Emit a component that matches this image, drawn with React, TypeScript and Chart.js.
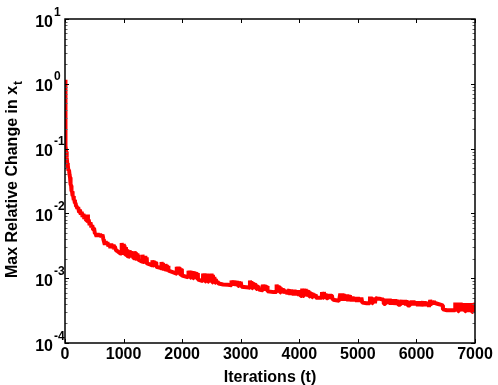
import { useEffect, useRef } from "react";
import { Chart, registerables } from "chart.js";

Chart.register(...registerables);

// x tick values (iterations) and y decades (log10 exponents)
const xTickValues = [0, 1000, 2000, 3000, 4000, 5000, 6000, 7000];
const yDecades = [-4, -3, -2, -1, 0, 1];
const xTitle = "Iterations (t)";
const yTitleMain = "Max Relative Change in x";
const yTitleSub = "t";

// [iteration, max relative change]
const phaseEarly: [number, number][] = [
  [0, 1.15], [3, 0.6], [6, 0.3], [10, 0.16], [14, 0.11], [20, 0.09], [29, 0.074], [38, 0.06],
  [48, 0.055], [58, 0.046], [68, 0.047], [77, 0.04], [86, 0.036], [95, 0.028], [104, 0.027],
  [111, 0.022], [120, 0.022], [130, 0.0185], [140, 0.0185], [150, 0.016], [160, 0.0162],
  [170, 0.0142], [180, 0.0145], [190, 0.0128], [200, 0.013], [210, 0.0118], [225, 0.0125],
  [240, 0.0105], [255, 0.0115], [270, 0.0096], [285, 0.0106], [300, 0.0088], [315, 0.0098],
  [330, 0.0082], [345, 0.009], [360, 0.0078], [372, 0.0085], [384, 0.0096], [392, 0.0072],
  [405, 0.008], [420, 0.0066], [435, 0.0073], [450, 0.0061], [465, 0.0066], [480, 0.0056],
  [495, 0.006], [510, 0.0049], [520, 0.0049], [540, 0.0044], [560, 0.0049], [580, 0.0044],
  [600, 0.0048], [620, 0.0043], [640, 0.0047], [655, 0.004], [665, 0.0037], [680, 0.0033],
  [695, 0.0037], [710, 0.0033], [725, 0.0036], [740, 0.0031],
];

const phaseMid: [number, number][] = [
  [760, 0.0034], [775, 0.0029], [790, 0.0034], [805, 0.0029], [820, 0.0033], [835, 0.0028],
  [850, 0.0031], [870, 0.0027], [900, 0.0026], [950, 0.0024],
  [965, 0.0024], [968, 0.0035], [980, 0.0024], [992, 0.0034], [1004, 0.0023], [1016, 0.0032],
  [1028, 0.0023], [1040, 0.003], [1052, 0.0022], [1060, 0.0028], [1063, 0.0022], [1095, 0.00215],
  [1103, 0.0027], [1115, 0.00212], [1127, 0.0026], [1139, 0.0021], [1151, 0.0025], [1163, 0.0021],
  [1166, 0.0024], [1170, 0.00205],
  [1185, 0.00203], [1188, 0.0026], [1200, 0.002], [1212, 0.0025], [1224, 0.00198], [1236, 0.0024],
  [1248, 0.00195], [1251, 0.0023], [1254, 0.00193], [1310, 0.00182],
  [1320, 0.0018], [1323, 0.0023], [1335, 0.00178], [1347, 0.0022], [1359, 0.00175], [1371, 0.0022],
  [1383, 0.00172], [1395, 0.0021], [1400, 0.00169], [1470, 0.0016],
  [1490, 0.00158], [1493, 0.0019], [1505, 0.00157], [1517, 0.00185], [1529, 0.00155], [1541, 0.0018],
  [1553, 0.00152], [1556, 0.00175], [1559, 0.0015], [1630, 0.00144],
  [1645, 0.00142], [1648, 0.00178], [1660, 0.0014], [1672, 0.00172], [1684, 0.00139], [1696, 0.00165],
  [1699, 0.00138],
  [1712, 0.00136], [1715, 0.00166], [1727, 0.00135], [1739, 0.0016], [1751, 0.00133], [1763, 0.00155],
  [1766, 0.00131], [1850, 0.00123],
  [1905, 0.00117], [1908, 0.0015], [1920, 0.00116], [1932, 0.0015], [1944, 0.00115], [1956, 0.00147],
  [1968, 0.00113], [1980, 0.00142], [1992, 0.00111], [1995, 0.0014], [1998, 0.0011], [2090, 0.00104],
  [2100, 0.00104], [2103, 0.0013], [2115, 0.00103], [2127, 0.0013], [2139, 0.00102], [2151, 0.00129],
  [2163, 0.00101], [2175, 0.00128], [2187, 0.001], [2199, 0.00127], [2211, 0.00099], [2223, 0.00125],
  [2235, 0.00098], [2247, 0.00122], [2259, 0.00097], [2268, 0.0012], [2271, 0.00095], [2340, 0.00091],
  [2355, 0.0009], [2358, 0.00118], [2370, 0.0009], [2382, 0.00118], [2394, 0.00089], [2406, 0.00117],
  [2418, 0.00088], [2430, 0.00117], [2442, 0.00088], [2454, 0.00116], [2466, 0.00087], [2478, 0.00116],
  [2490, 0.00086], [2502, 0.00118], [2514, 0.00086], [2525, 0.00112], [2537, 0.00086], [2550, 0.00104],
  [2562, 0.00085], [2575, 0.00097], [2587, 0.00085], [2600, 0.0009], [2612, 0.00084], [2640, 0.00082],
];

const phaseLate: [number, number][] = [
  [2700, 0.0008], [2780, 0.00079], [2840, 0.00078], [2843, 0.00092], [2865, 0.00077], [2880, 0.00092],
  [2895, 0.00077], [2910, 0.00091], [2925, 0.00076], [2940, 0.0009], [2955, 0.00076], [2970, 0.00089],
  [2985, 0.00075], [3000, 0.00088], [3015, 0.00074], [3140, 0.00072],
  [3155, 0.00071], [3158, 0.00092], [3170, 0.00071], [3182, 0.0009], [3194, 0.0007], [3206, 0.00087],
  [3218, 0.0007], [3230, 0.00084], [3242, 0.00069], [3254, 0.00081], [3266, 0.00068], [3278, 0.00078],
  [3290, 0.00068], [3302, 0.00076], [3314, 0.00067], [3323, 0.00066],
  [3375, 0.00065], [3378, 0.0008], [3390, 0.00065], [3402, 0.00079], [3414, 0.00064], [3426, 0.00078],
  [3438, 0.00064], [3450, 0.00076], [3458, 0.00063], [3560, 0.00061],
  [3610, 0.00061], [3613, 0.0008], [3625, 0.0006], [3637, 0.00077], [3649, 0.0006], [3661, 0.00075],
  [3673, 0.0006], [3685, 0.00072], [3697, 0.00059], [3709, 0.0007], [3721, 0.00059], [3733, 0.00068],
  [3745, 0.00058], [3757, 0.00066], [3769, 0.00058], [3781, 0.00064], [3793, 0.00057], [3805, 0.00057],
  [3830, 0.00067], [3845, 0.00055], [3860, 0.00067], [3875, 0.00055], [3890, 0.00066], [3905, 0.00054],
  [3920, 0.00066], [3935, 0.00054], [3950, 0.00065], [3965, 0.00054], [3980, 0.00065], [3995, 0.00053],
  [4010, 0.00064], [4025, 0.00053],
  [4045, 0.00053], [4050, 0.00069], [4065, 0.00053], [4080, 0.00069], [4095, 0.00053], [4110, 0.00068],
  [4122, 0.00053], [4134, 0.00066], [4146, 0.00052], [4158, 0.00064], [4170, 0.00052], [4182, 0.00062],
  [4194, 0.00051], [4206, 0.0006], [4218, 0.00051], [4230, 0.00059], [4242, 0.00051], [4254, 0.00057],
  [4266, 0.00051], [4278, 0.00056], [4283, 0.0005], [4340, 0.0005],
  [4385, 0.0005], [4388, 0.00061], [4405, 0.0005], [4420, 0.00061], [4435, 0.0005], [4450, 0.00058],
  [4465, 0.00049], [4490, 0.00049], [4495, 0.00057], [4510, 0.00048], [4525, 0.00057], [4540, 0.00048],
  [4555, 0.00055], [4570, 0.00047], [4600, 0.00046], [4680, 0.00045],
];

const phaseFinal: [number, number][] = [
  [4695, 0.00045], [4700, 0.00058], [4715, 0.00045], [4730, 0.00058], [4745, 0.00045], [4760, 0.00057],
  [4775, 0.00045], [4790, 0.00056], [4805, 0.00045], [4820, 0.00056], [4835, 0.00044], [4850, 0.00055],
  [4865, 0.00044], [4880, 0.00052], [4895, 0.00044], [4910, 0.00052], [4925, 0.00044], [4940, 0.00051],
  [4955, 0.00044], [4970, 0.00051], [4985, 0.00043], [5000, 0.00051], [5015, 0.00043], [5030, 0.0005],
  [5045, 0.00043], [5060, 0.0005], [5075, 0.00042], [5150, 0.00041],
  [5205, 0.00041], [5208, 0.00052], [5220, 0.00041], [5232, 0.00051], [5244, 0.00041], [5256, 0.0005],
  [5268, 0.00041], [5280, 0.0005], [5292, 0.00041], [5304, 0.00049],
  [5320, 0.00049], [5350, 0.00048], [5380, 0.00048], [5410, 0.00047], [5440, 0.00047], [5443, 0.0004],
  [5470, 0.0004], [5485, 0.00048], [5500, 0.0004], [5515, 0.00048], [5530, 0.0004], [5545, 0.00048],
  [5560, 0.00039], [5575, 0.00047], [5590, 0.00039], [5605, 0.00047], [5620, 0.00039], [5640, 0.00047],
  [5655, 0.00039], [5670, 0.00046], [5690, 0.00039], [5725, 0.00039],
  [5745, 0.00046], [5760, 0.00039], [5775, 0.00046], [5790, 0.00039], [5805, 0.00046], [5820, 0.00038],
  [5835, 0.00045], [5850, 0.00038], [5880, 0.00038],
  [5890, 0.00045], [5905, 0.00038], [5920, 0.00045], [5935, 0.00038], [5950, 0.00045], [5965, 0.00038],
  [5980, 0.00044], [5995, 0.00038], [6010, 0.00044], [6025, 0.00037], [6040, 0.00044], [6055, 0.00037],
  [6070, 0.00044], [6085, 0.00037],
  [6110, 0.00044], [6125, 0.00037], [6140, 0.00044], [6155, 0.00037], [6170, 0.00043], [6185, 0.00037],
  [6200, 0.00043], [6215, 0.00036],
  [6235, 0.00046], [6250, 0.0004], [6265, 0.00045], [6280, 0.0004], [6300, 0.00043], [6330, 0.00041],
  [6370, 0.0004], [6410, 0.00039], [6450, 0.00038], [6453, 0.00033], [6520, 0.00032], [6640, 0.00032],
  [6660, 0.00032], [6663, 0.00042], [6680, 0.00031], [6695, 0.00042], [6710, 0.00031], [6725, 0.00042],
  [6740, 0.00031], [6755, 0.00042], [6770, 0.00031], [6785, 0.00041], [6800, 0.00031], [6815, 0.00041],
  [6830, 0.00031], [6845, 0.00041], [6860, 0.0003], [6875, 0.00041], [6890, 0.0003], [6905, 0.00041],
  [6920, 0.0003], [6935, 0.0004], [6950, 0.0003], [6965, 0.00041], [6980, 0.00038], [7000, 0.0004],
];

const FONT = '"Liberation Sans", Arial, Helvetica, sans-serif';

export default function App() {
  const ref = useRef<HTMLCanvasElement>(null);

  useEffect(() => {
    if (!ref.current) return;
    const points = [...phaseEarly, ...phaseMid, ...phaseLate, ...phaseFinal].map(([x, y]) => ({ x, y }));

    const axesPlugin = {
      id: "matlabAxes",
      afterDraw(chart: any) {
        const ctx = chart.ctx as CanvasRenderingContext2D;
        const { left, right, top, bottom } = chart.chartArea;
        const xs = chart.scales.x;
        const ys = chart.scales.y;
        ctx.save();
        // ticks
        ctx.strokeStyle = "#000";
        ctx.lineWidth = 1;
        ctx.beginPath();
        for (const v of xTickValues) {
          const px = Math.round(xs.getPixelForValue(v)) + 0.5;
          ctx.moveTo(px, bottom);
          ctx.lineTo(px, bottom - 4);
          ctx.moveTo(px, top);
          ctx.lineTo(px, top + 4);
        }
        for (const d of yDecades) {
          const py = Math.round(ys.getPixelForValue(Math.pow(10, d))) + 0.5;
          ctx.moveTo(left, py);
          ctx.lineTo(left + 4, py);
          ctx.moveTo(right, py);
          ctx.lineTo(right - 4, py);
        }
        ctx.stroke();
        ctx.strokeStyle = "#666";
        ctx.beginPath();
        for (const d of yDecades) {
          if (d === yDecades[yDecades.length - 1]) continue;
          for (let m = 2; m <= 9; m++) {
            const py = Math.round(ys.getPixelForValue(m * Math.pow(10, d))) + 0.5;
            ctx.moveTo(left, py);
            ctx.lineTo(left + 2.5, py);
            ctx.moveTo(right, py);
            ctx.lineTo(right - 2.5, py);
          }
        }
        ctx.stroke();
        // frame
        ctx.strokeStyle = "#000";
        ctx.lineWidth = 1.5;
        ctx.strokeRect(left, top, right - left, bottom - top);

        // x tick labels
        ctx.fillStyle = "#000";
        ctx.font = `bold 16px ${FONT}`;
        ctx.textAlign = "center";
        ctx.textBaseline = "alphabetic";
        for (const v of xTickValues) {
          ctx.fillText(String(v), xs.getPixelForValue(v), bottom + 15.5);
        }
        // y tick labels 10^d
        for (const d of yDecades) {
          const py = ys.getPixelForValue(Math.pow(10, d));
          ctx.font = `bold 16px ${FONT}`;
          ctx.textAlign = "right";
          ctx.fillText("10", 53, py + 7.5);
          ctx.font = `bold 12px ${FONT}`;
          ctx.textAlign = "left";
          ctx.fillText(d < 0 ? "-" + Math.abs(d) : String(d), 54, py - 3.5);
        }
        // x title
        ctx.font = `bold 16px ${FONT}`;
        ctx.textAlign = "center";
        ctx.fillText(xTitle, (left + right) / 2, 382);
        // y title (rotated) with subscript
        ctx.translate(17, 278);
        ctx.rotate(-Math.PI / 2);
        ctx.textAlign = "left";
        ctx.font = `bold 16px ${FONT}`;
        ctx.fillText(yTitleMain, 0, 0);
        const w = ctx.measureText(yTitleMain).width;
        ctx.font = `bold 12px ${FONT}`;
        ctx.fillText(yTitleSub, w + 1, 5);
        ctx.restore();
      },
    };

    const chart = new Chart(ref.current, {
      type: "line",
      data: {
        datasets: [
          {
            data: points,
            borderColor: "#ff0000",
            borderWidth: 4,
            pointRadius: 0,
            tension: 0,
            fill: false,
            borderJoinStyle: "bevel",
          },
        ],
      },
      options: {
        animation: false,
        responsive: false,
        maintainAspectRatio: false,
        layout: { padding: { left: 65, top: 19, right: 23, bottom: 42 } },
        plugins: { legend: { display: false }, tooltip: { enabled: false } },
        scales: {
          x: { type: "linear", min: 0, max: 7000, display: false },
          y: { type: "logarithmic", min: 1e-4, max: 10, display: false },
        },
      },
      plugins: [axesPlugin],
    });
    return () => chart.destroy();
  }, []);

  return (
    <div style={{ position: "fixed", left: 0, top: 0, width: 498, height: 385, background: "#fff" }}>
      <canvas ref={ref} width={498} height={385} style={{ width: 498, height: 385, display: "block" }} />
    </div>
  );
}
